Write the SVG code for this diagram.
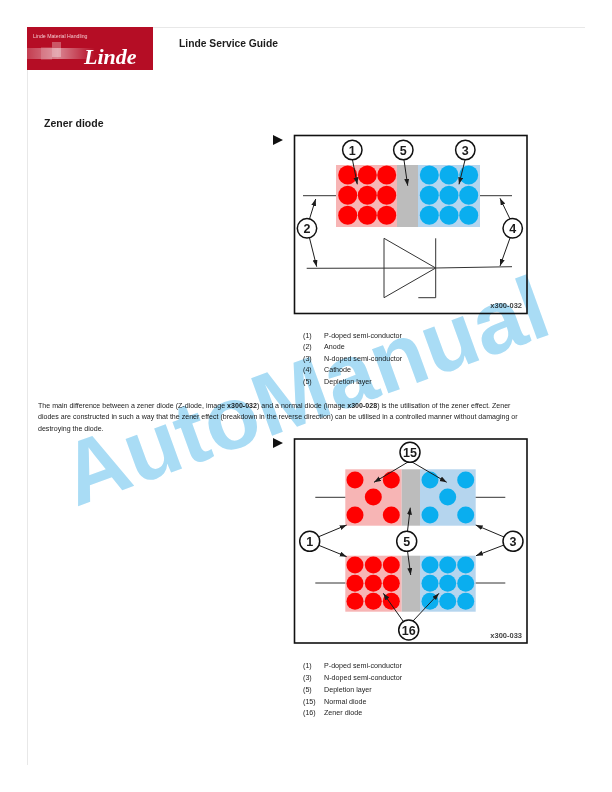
<svg xmlns="http://www.w3.org/2000/svg" width="612" height="792" viewBox="0 0 612 792">
<style>
text{font-family:"Liberation Sans",Arial,sans-serif;fill:#1c1c1c}
.s{font-size:7.07px}
.l{font-size:7.15px}
.b{font-weight:bold}
.n{font-size:12.5px;font-weight:bold;text-anchor:middle;fill:#1c1c1c}
.w{stroke:#333;stroke-width:1;fill:none}
.a{stroke:#1c1c1c;stroke-width:1;fill:none;marker-end:url(#ah)}
.c{fill:#fff;stroke:#111;stroke-width:1.5}
.f{fill:#fff;stroke:#111;stroke-width:1.6}
.r{fill:#f00}
.u{fill:#0aaeef}
.id{font-size:7.5px;font-weight:bold;fill:#444;text-anchor:end}
</style>
<defs>
<marker id="ah" markerWidth="8" markerHeight="6" refX="7" refY="2.5" orient="auto" markerUnits="userSpaceOnUse"><path d="M0 0L7 2.5L0 5z" fill="#1c1c1c"/></marker>
<linearGradient id="g1" x1="0" x2="1"><stop offset="0" stop-color="#fff" stop-opacity=".2"/><stop offset=".45" stop-color="#fff" stop-opacity=".5"/><stop offset="1" stop-color="#fff" stop-opacity="0"/></linearGradient>
</defs>
<rect width="612" height="792" fill="#fff"/>
<path d="M153 27.5H585M27.5 70V765" stroke="#e8e8e8" fill="none"/>
<g id="logo">
<rect x="27" y="27" width="126" height="43" fill="#b50d25"/>
<rect x="27" y="48" width="68" height="11" fill="url(#g1)"/>
<rect x="41" y="47" width="11" height="13" fill="#fff" opacity=".15"/>
<rect x="52" y="42" width="9" height="15" fill="#fff" opacity=".3"/>
<text x="33" y="38" style="font-size:5.2px;fill:#f3c8ce">Linde Material Handling</text>
<text x="84" y="63.5" style="font-family:'Liberation Serif',serif;font-style:italic;font-weight:bold;font-size:22px;fill:#fff">Linde</text>
</g>
<text x="179" y="47" class="b" style="font-size:10.3px">Linde Service Guide</text>
<text x="44" y="127" class="b" style="font-size:10.5px">Zener diode</text>
<path d="M273 135V145L283 140zM273 438V448L283 443z" fill="#111"/>

<g id="figure-1">
<rect class="f" x="294.5" y="135.5" width="232.5" height="178"/>
<rect x="336" y="165" width="61" height="62" fill="#f7b5b5"/>
<rect x="397" y="165" width="21" height="62" fill="#bcbcbc"/>
<rect x="418" y="165" width="62" height="62" fill="#b5d5ee"/>
<g class="r"><circle cx="347.7" cy="175" r="9.5"/><circle cx="367.3" cy="175" r="9.5"/><circle cx="386.7" cy="175" r="9.5"/><circle cx="347.7" cy="195.3" r="9.5"/><circle cx="367.3" cy="195.3" r="9.5"/><circle cx="386.7" cy="195.3" r="9.5"/><circle cx="347.7" cy="215.3" r="9.5"/><circle cx="367.3" cy="215.3" r="9.5"/><circle cx="386.7" cy="215.3" r="9.5"/></g>
<g class="u"><circle cx="429.3" cy="175" r="9.5"/><circle cx="449" cy="175" r="9.5"/><circle cx="468.7" cy="175" r="9.5"/><circle cx="429.3" cy="195.3" r="9.5"/><circle cx="449" cy="195.3" r="9.5"/><circle cx="468.7" cy="195.3" r="9.5"/><circle cx="429.3" cy="215.3" r="9.5"/><circle cx="449" cy="215.3" r="9.5"/><circle cx="468.7" cy="215.3" r="9.5"/></g>
<path class="w" d="M303 195.7H336M480 195.7H512M306.7 268.3L435.7 268L512 266.7M384 238.3L435.7 268L384 297.7ZM435.7 238.3V297.7H418.3"/>
<text class="id" x="522" y="308">x300-032</text>
</g>
<g id="connectors-1">
<path class="a" d="M352.5 160L357.3 184.3"/>
<path class="a" d="M404 160L407.7 185.7"/>
<path class="a" d="M465 160L459 184.3"/>
<path class="a" d="M309.5 219L315.7 199"/>
<path class="a" d="M309.5 238L316.7 266.7"/>
<path class="a" d="M510 219L500 198.3"/>
<path class="a" d="M510 238L500 266"/>
</g>
<g id="callouts-1">
<g id="c1-1"><circle class="c" cx="352.3" cy="150" r="9.7"/><text class="n" x="352.3" y="154.5">1</text></g>
<g id="c1-5"><circle class="c" cx="403.3" cy="150" r="9.7"/><text class="n" x="403.3" y="154.5">5</text></g>
<g id="c1-3"><circle class="c" cx="465.3" cy="150" r="9.7"/><text class="n" x="465.3" y="154.5">3</text></g>
<g id="c1-2"><circle class="c" cx="307" cy="228.3" r="9.7"/><text class="n" x="307" y="232.8">2</text></g>
<g id="c1-4"><circle class="c" cx="512.7" cy="228.3" r="9.7"/><text class="n" x="512.7" y="232.8">4</text></g>
</g>
<g id="legend-1" class="l">
<text x="303" y="337.5">(1)</text><text x="324" y="337.5">P-doped semi-conductor</text>
<text x="303" y="349">(2)</text><text x="324" y="349">Anode</text>
<text x="303" y="360.5">(3)</text><text x="324" y="360.5">N-doped semi-conductor</text>
<text x="303" y="372">(4)</text><text x="324" y="372">Cathode</text>
<text x="303" y="383.5">(5)</text><text x="324" y="383.5">Depletion layer</text>
</g>
<g id="body" class="s">
<text x="38" y="407.5">The main difference between a zener diode (Z-diode, image <tspan class="b">x300-032</tspan>) and a normal diode (image <tspan class="b">x300-028</tspan>) is the utilisation of the zener effect. Zener</text>
<text x="38" y="419">diodes are constructed in such a way that the zener effect (breakdown in the reverse direction) can be utilised in a controlled manner without damaging or</text>
<text x="38" y="431">destroying the diode.</text>
</g>

<g id="figure-2">
<rect class="f" x="294.5" y="439" width="232.5" height="204"/>
<rect x="345.3" y="469.3" width="56.4" height="56.4" fill="#f7b5b5"/>
<rect x="401.7" y="469.3" width="18.3" height="56.4" fill="#bcbcbc"/>
<rect x="420" y="469.3" width="55.7" height="56.4" fill="#b5d5ee"/>
<g class="r"><circle cx="355" cy="480" r="8.5"/><circle cx="391.3" cy="480" r="8.5"/><circle cx="373.3" cy="497" r="8.5"/><circle cx="355" cy="515" r="8.5"/><circle cx="391.3" cy="515" r="8.5"/></g>
<g class="u"><circle cx="430" cy="480" r="8.5"/><circle cx="465.7" cy="480" r="8.5"/><circle cx="447.7" cy="497" r="8.5"/><circle cx="430" cy="515" r="8.5"/><circle cx="465.7" cy="515" r="8.5"/></g>
<rect x="345.3" y="555.7" width="56.4" height="56" fill="#f7b5b5"/>
<rect x="401.7" y="555.7" width="18.3" height="56" fill="#bcbcbc"/>
<rect x="420" y="555.7" width="55.7" height="56" fill="#b5d5ee"/>
<g class="r"><circle cx="355" cy="565" r="8.5"/><circle cx="373.3" cy="565" r="8.5"/><circle cx="391.3" cy="565" r="8.5"/><circle cx="355" cy="583.3" r="8.5"/><circle cx="373.3" cy="583.3" r="8.5"/><circle cx="391.3" cy="583.3" r="8.5"/><circle cx="355" cy="601.3" r="8.5"/><circle cx="373.3" cy="601.3" r="8.5"/><circle cx="391.3" cy="601.3" r="8.5"/></g>
<g class="u"><circle cx="430" cy="565" r="8.5"/><circle cx="447.7" cy="565" r="8.5"/><circle cx="465.7" cy="565" r="8.5"/><circle cx="430" cy="583.3" r="8.5"/><circle cx="447.7" cy="583.3" r="8.5"/><circle cx="465.7" cy="583.3" r="8.5"/><circle cx="430" cy="601.3" r="8.5"/><circle cx="447.7" cy="601.3" r="8.5"/><circle cx="465.7" cy="601.3" r="8.5"/></g>
<path class="w" d="M315.3 497.3H345.3M475.7 497.3H505.3M315.3 583H345.3M475.7 583H505.3"/>
<text class="id" x="522" y="638">x300-033</text>
</g>
<g id="connectors-2">
<path class="a" d="M408 462L374 482.3"/>
<path class="a" d="M412 462L446.7 482.3"/>
<path class="a" d="M318 537L346.7 525"/>
<path class="a" d="M318 545L346.7 556.7"/>
<path class="a" d="M407.5 531L410.3 507.7"/>
<path class="a" d="M407.5 551L410.7 575"/>
<path class="a" d="M504 537L475.7 525"/>
<path class="a" d="M504 545L476 555.7"/>
<path class="a" d="M403 621L383.3 593.3"/>
<path class="a" d="M413 621L439 593.3"/>
</g>
<g id="callouts-2">
<g id="c2-15"><circle class="c" cx="410" cy="452.3" r="10"/><text class="n" x="410" y="456.8">15</text></g>
<g id="c2-1"><circle class="c" cx="309.7" cy="541.3" r="10"/><text class="n" x="309.7" y="545.8">1</text></g>
<g id="c2-5"><circle class="c" cx="406.7" cy="541.3" r="10"/><text class="n" x="406.7" y="545.8">5</text></g>
<g id="c2-3"><circle class="c" cx="513" cy="541.3" r="10"/><text class="n" x="513" y="545.8">3</text></g>
<g id="c2-16"><circle class="c" cx="408.7" cy="630" r="10"/><text class="n" x="408.7" y="634.5">16</text></g>
</g>
<g id="legend-2" class="l">
<text x="303" y="668">(1)</text><text x="324" y="668">P-doped semi-conductor</text>
<text x="303" y="680">(3)</text><text x="324" y="680">N-doped semi-conductor</text>
<text x="303" y="692">(5)</text><text x="324" y="692">Depletion layer</text>
<text x="303" y="703.5">(15)</text><text x="324" y="703.5">Normal diode</text>
<text x="303" y="715">(16)</text><text x="324" y="715">Zener diode</text>
</g>
<text id="watermark" transform="translate(76 507) rotate(-20)" style="font-size:89px;font-weight:bold;fill:#a9dcf5;mix-blend-mode:multiply">AutoManual</text>
</svg>
